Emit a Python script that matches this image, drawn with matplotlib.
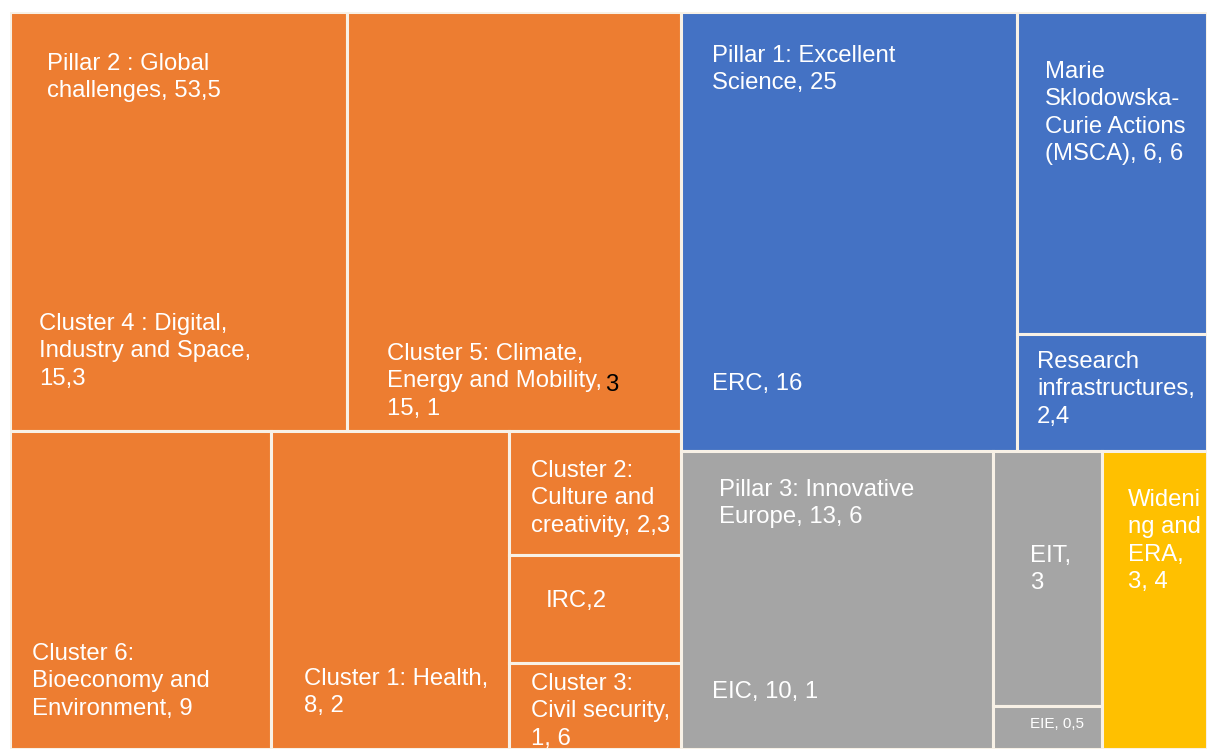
import matplotlib.pyplot as plt
from matplotlib.patches import Rectangle

# Horizon Europe budget, billion EUR (decimal comma as in the source)
pillars = ["Pillar 2", "Pillar 1", "Pillar 3", "Widening"]
pillar_values = [53.5, 25.0, 13.6, 3.4]

p2_names = ["Cluster 4", "Cluster 5", "Cluster 6", "Cluster 1", "Cluster 2", "IRC", "Cluster 3"]
p2_values = [15.3, 15.1, 9.0, 8.2, 2.3, 2.0, 1.6]

p1_names = ["ERC", "MSCA", "Research infrastructures"]
p1_values = [16.0, 6.6, 2.4]

p3_names = ["EIC", "EIT", "EIE"]
p3_values = [10.1, 3.0, 0.5]

ORANGE = "#ED7D31"
BLUE = "#4472C4"
GRAY = "#A5A5A5"
YELLOW = "#FFC000"
EDGE = "#f8f1e6"

W, H = 1207, 749


def split(rect, values, horizontal):
    """Split rect (x, y, w, h) proportionally to values; y grows downward."""
    x, y, w, h = rect
    tot = sum(values)
    out = []
    pos = 0.0
    for v in values:
        f = v / tot
        if horizontal:
            out.append((x + pos * w, y, f * w, h))
        else:
            out.append((x, y + pos * h, w, f * h))
        pos += f
    return out


fig = plt.figure(figsize=(W / 100, H / 100), dpi=100)
ax = fig.add_axes([10 / W, 0, 1197 / W, 737 / H])
ax.set_xlim(0, 1)
ax.set_ylim(1, 0)
ax.axis("off")

root = (0, 0, 1, 1)
orange_r, rest_r = split(root, [pillar_values[0], sum(pillar_values[1:])], True)
blue_r, bottom_r = split(rest_r, [pillar_values[1], sum(pillar_values[2:])], False)
gray_r, yellow_r = split(bottom_r, [pillar_values[2], pillar_values[3]], True)

# Pillar 2
top_row, bot_row = split(orange_r, [sum(p2_values[:2]), sum(p2_values[2:])], False)
c4, c5 = split(top_row, p2_values[:2], True)
c6, c1, col = split(bot_row, [p2_values[2], p2_values[3], sum(p2_values[4:])], True)
c2, irc, c3 = split(col, p2_values[4:], False)

# Pillar 1
erc, p1col = split(blue_r, [p1_values[0], sum(p1_values[1:])], True)
msca, ri = split(p1col, p1_values[1:], False)

# Pillar 3
eic, p3col = split(gray_r, [p3_values[0], sum(p3_values[1:])], True)
eit, eie = split(p3col, p3_values[1:], False)

cells = [(r, ORANGE) for r in (c4, c5, c6, c1, c2, irc, c3)]
cells += [(r, BLUE) for r in (erc, msca, ri)]
cells += [(r, GRAY) for r in (eic, eit, eie)]
cells += [(yellow_r, YELLOW)]

for (x, y, w, h), c in cells:
    ax.add_patch(Rectangle((x, y), w, h, facecolor=c, edgecolor=EDGE, linewidth=2.2))

FONT = "Liberation Sans"


def label(px, py, s, size=17.2, color="white"):
    fig.text(px / W, 1 - py / H, s, ha="left", va="top", fontsize=size,
             color=color, family=FONT, linespacing=1.31)


label(47, 53, "Pillar 2 : Global\nchallenges, 53,5")
label(39, 313, "Cluster 4 : Digital,\nIndustry and Space,\n15,3")
label(387, 343, "Cluster 5: Climate,\nEnergy and Mobility,\n15, 1")
label(605, 374, "3", color="black")
label(712, 45, "Pillar 1: Excellent\nScience, 25")
label(712, 373, "ERC, 16")
label(1045, 61, "Marie\nSklodowska-\nCurie Actions\n(MSCA), 6, 6")
label(1037, 351, "Research\ninfrastructures,\n2,4")
label(719, 479, "Pillar 3: Innovative\nEurope, 13, 6")
label(712, 681, "EIC, 10, 1")
label(1030, 545, "EIT,\n3")
label(1030, 717, "EIE, 0,5", size=11)
label(1128, 489, "Wideni\nng and\nERA,\n3, 4")
label(531, 460, "Cluster 2:\nCulture and\ncreativity, 2,3")
label(546, 590, "IRC,2")
label(531, 673, "Cluster 3:\nCivil security,\n1, 6")
label(32, 643, "Cluster 6:\nBioeconomy and\nEnvironment, 9")
label(304, 668, "Cluster 1: Health,\n8, 2")

fig.savefig("out.png", dpi=100, facecolor="white")
